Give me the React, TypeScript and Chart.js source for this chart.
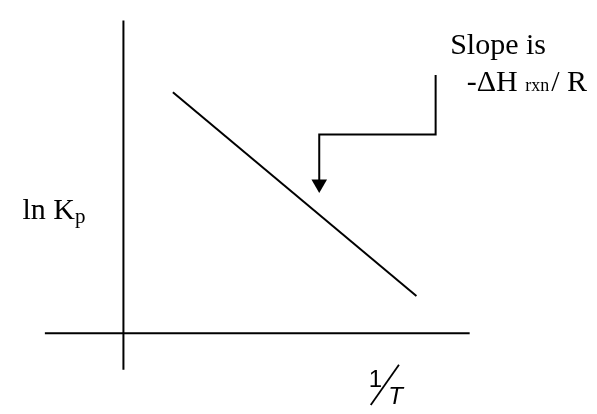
import React, { useEffect, useRef } from "react";
import { Chart, registerables } from "chart.js";

Chart.register(...registerables);

const CANVAS_W = 597;
const CANVAS_H = 414;

// Conceptual units: x = 1/T, y = ln Kp ; the two axes cross at the origin.
const xRange = [-3.933, 15.967];
const yRange = [-2.5, 11.3];

const horizontalAxisX = [-2.7, 11.9];
const horizontalAxisY = [0, 0];
const verticalAxisX = [0, 0];
const verticalAxisY = [10.9, -1.27];

const fitLineX = [1.7, 10.07];
const fitLineY = [8.4, 1.3];

const calloutX = [10.73, 10.73, 6.73, 6.73];
const calloutY = [9.0, 6.93, 6.93, 5.2];

const arrowHeadX = [6.73];
const arrowHeadY = [5.2];

// Text anchors (same conceptual units)
const slopeLine1 = { x: 11.23, y: 9.73, text: "Slope is" };
const slopeLine2 = { x: 11.8, y: 8.43 };
const yLabelPos = { x: -3.47, y: 3.97 };
const xLabelOne = { x: 8.43, y: -1.87 };
const xLabelSlash = { x1: 8.5, y1: -2.5, x2: 9.47, y2: -1.1 };
const xLabelT = { x: 9.1, y: -2.47 };

const SERIF = '"Liberation Serif", "Times New Roman", serif';
const SANS = '"Liberation Sans", Arial, sans-serif';

const toPts = (xs: number[], ys: number[]) => xs.map((x, i) => ({ x, y: ys[i] }));

const textPlugin = {
  id: "vanthoffText",
  afterDatasetsDraw(chart: any) {
    const ctx = chart.ctx as CanvasRenderingContext2D;
    const xs = chart.scales.x;
    const ys = chart.scales.y;
    const px = (v: number) => xs.getPixelForValue(v);
    const py = (v: number) => ys.getPixelForValue(v);
    ctx.save();
    ctx.fillStyle = "#000";
    ctx.strokeStyle = "#000";
    ctx.textAlign = "left";
    ctx.textBaseline = "alphabetic";

    // Slope is
    ctx.font = `30px ${SERIF}`;
    ctx.fillText(slopeLine1.text, px(slopeLine1.x), py(slopeLine1.y));

    // -ΔH rxn / R
    let cx = px(slopeLine2.x);
    const by = py(slopeLine2.y);
    ctx.font = `30px ${SERIF}`;
    ctx.fillText("-\u0394H ", cx, by);
    cx += ctx.measureText("-\u0394H ").width;
    ctx.font = `18px ${SERIF}`;
    ctx.fillText("rxn", cx, by);
    cx += ctx.measureText("rxn").width + 2;
    ctx.font = `30px ${SERIF}`;
    ctx.fillText("/ R", cx, by);

    // ln Kp
    let lx = px(yLabelPos.x);
    const ly = py(yLabelPos.y);
    ctx.font = `30px ${SERIF}`;
    ctx.fillText("ln K", lx, ly);
    lx += ctx.measureText("ln K").width;
    ctx.font = `21px ${SERIF}`;
    ctx.fillText("p", lx, ly + 4);

    // 1/T
    ctx.font = `24px ${SANS}`;
    ctx.fillText("1", px(xLabelOne.x), py(xLabelOne.y));
    ctx.lineWidth = 1.8;
    ctx.beginPath();
    ctx.moveTo(px(xLabelSlash.x1), py(xLabelSlash.y1));
    ctx.lineTo(px(xLabelSlash.x2), py(xLabelSlash.y2));
    ctx.stroke();
    ctx.font = `italic 24px ${SANS}`;
    ctx.fillText("T", px(xLabelT.x), py(xLabelT.y));
    ctx.restore();
  },
};

export default function App() {
  const ref = useRef<HTMLCanvasElement | null>(null);

  useEffect(() => {
    if (!ref.current) return;
    const lineDs = (pts: { x: number; y: number }[]) => ({
      data: pts,
      showLine: true,
      borderColor: "#000",
      borderWidth: 2,
      pointRadius: 0,
      pointHoverRadius: 0,
      fill: false,
      tension: 0,
    });
    const chart = new Chart(ref.current, {
      type: "scatter",
      data: {
        datasets: [
          lineDs(toPts(horizontalAxisX, horizontalAxisY)),
          lineDs(toPts(verticalAxisX, verticalAxisY)),
          lineDs(toPts(fitLineX, fitLineY)),
          lineDs(toPts(calloutX, calloutY)),
          {
            data: toPts(arrowHeadX, arrowHeadY),
            showLine: false,
            pointStyle: "triangle",
            rotation: 180,
            pointRadius: 9,
            pointHoverRadius: 9,
            backgroundColor: "#000",
            borderColor: "#000",
            borderWidth: 0,
          },
        ],
      },
      options: {
        responsive: false,
        animation: false,
        events: [],
        layout: { padding: 0 },
        plugins: { legend: { display: false }, tooltip: { enabled: false } },
        scales: {
          x: { type: "linear", min: xRange[0], max: xRange[1], display: false },
          y: { type: "linear", min: yRange[0], max: yRange[1], display: false },
        },
      },
      plugins: [textPlugin],
    } as any);
    return () => chart.destroy();
  }, []);

  return (
    <div style={{ position: "absolute", left: 0, top: 0, width: CANVAS_W, height: CANVAS_H, background: "#fff" }}>
      <canvas ref={ref} width={CANVAS_W} height={CANVAS_H} style={{ width: CANVAS_W, height: CANVAS_H, display: "block" }} />
    </div>
  );
}
